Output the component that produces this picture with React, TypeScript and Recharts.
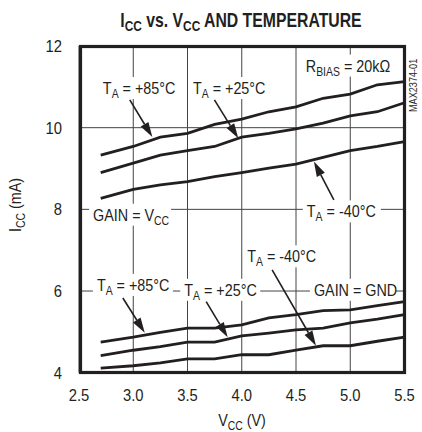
import React from "react";
import { LineChart, Line, XAxis, YAxis, CartesianGrid } from "recharts";

const FONT = "'Liberation Sans', Arial, sans-serif";
const SQUEEZE = 0.87; // the reference uses a condensed face
const INK = "#231f20";

// supply voltage (V)
const vcc = [2.7, 3.0, 3.25, 3.5, 3.75, 4.0, 4.25, 4.5, 4.75, 5.0, 5.25, 5.5];

// ICC (mA), GAIN = VCC
const vccGain85 = [9.33, 9.54, 9.77, 9.86, 10.08, 10.21, 10.39, 10.51, 10.72, 10.82, 11.05, 11.13];
const vccGain25 = [8.9, 9.13, 9.33, 9.44, 9.54, 9.77, 9.86, 9.97, 10.11, 10.29, 10.39, 10.61];
const vccGainM40 = [8.27, 8.49, 8.6, 8.68, 8.8, 8.9, 9.01, 9.11, 9.27, 9.44, 9.54, 9.66];

// ICC (mA), GAIN = GND
const gndGain85 = [4.75, 4.87, 4.99, 5.09, 5.09, 5.17, 5.34, 5.42, 5.52, 5.54, 5.64, 5.74];
const gndGain25 = [4.42, 4.55, 4.64, 4.75, 4.75, 4.9, 4.97, 5.05, 5.09, 5.22, 5.31, 5.42];
const gndGainM40 = [4.11, 4.17, 4.24, 4.34, 4.34, 4.44, 4.44, 4.55, 4.66, 4.66, 4.77, 4.87];

const xTicks = [2.5, 3.0, 3.5, 4.0, 4.5, 5.0, 5.5];
const yTicks = [4, 6, 8, 10, 12];

const data = vcc.map((v, i) => ({
  vcc: v,
  a85: vccGain85[i],
  a25: vccGain25[i],
  am40: vccGainM40[i],
  g85: gndGain85[i],
  g25: gndGain25[i],
  gm40: gndGainM40[i],
}));

const series = ["a85", "a25", "am40", "g85", "g25", "gm40"];

// plot area, used to place the annotations in data units
const W = 422;
const H = 432;
const PL = 79;
const PR = 404.5;
const PT = 46;
const PB = 372.7;
const sx = (v: number) => PL + ((v - 2.5) / 3) * (PR - PL);
const sy = (v: number) => PB - ((v - 4) / 8) * (PB - PT);

type Label = { x: number; y: number; main: string; sub: string; rest: string; w: number };
const labels: Label[] = [
  { x: 2.72, y: 10.97, main: "T", sub: "A", rest: " = +85°C", w: 72 },
  { x: 3.55, y: 10.97, main: "T", sub: "A", rest: " = +25°C", w: 72 },
  { x: 4.59, y: 11.52, main: "R", sub: "BIAS", rest: " = 20kΩ", w: 87 },
  { x: 2.63, y: 7.87, main: "GAIN = V", sub: "CC", rest: "", w: 74 },
  { x: 4.6, y: 7.95, main: "T", sub: "A", rest: " = -40°C", w: 70 },
  { x: 2.665, y: 6.15, main: "T", sub: "A", rest: " = +85°C", w: 72 },
  { x: 3.47, y: 6.03, main: "T", sub: "A", rest: " = +25°C", w: 72 },
  { x: 4.05, y: 6.85, main: "T", sub: "A", rest: " = -40°C", w: 70 },
  { x: 4.665, y: 6.03, main: "GAIN = GND", sub: "", rest: "", w: 78 },
];

const arrows = [
  { x1: 2.968, y1: 10.68, x2: 3.176, y2: 9.77 },
  { x1: 3.748, y1: 10.68, x2: 3.968, y2: 9.74 },
  { x1: 4.849, y1: 8.23, x2: 4.665, y2: 9.17 },
  { x1: 2.904, y1: 5.83, x2: 3.106, y2: 4.98 },
  { x1: 3.672, y1: 5.74, x2: 3.87, y2: 4.87 },
  { x1: 4.28, y1: 6.52, x2: 4.684, y2: 4.66 },
];

// condensed text helper
function CText({ x, y, anchor = "start", size = 16.5, bold = false, rotate = 0, squeeze = SQUEEZE, children }: any) {
  const tf = `translate(${x} ${y})${rotate ? ` rotate(${rotate})` : ""} scale(${squeeze} 1)`;
  return (
    <text
      transform={tf}
      textAnchor={anchor}
      fontFamily={FONT}
      fontSize={size}
      fontWeight={bold ? "bold" : "normal"}
      fill={INK}
    >
      {children}
    </text>
  );
}

function Arrow({ x1, y1, x2, y2 }: { x1: number; y1: number; x2: number; y2: number }) {
  const ax = sx(x1), ay = sy(y1), bx = sx(x2), by = sy(y2);
  const ang = Math.atan2(by - ay, bx - ax);
  const len = 15, half = 4.5;
  const cx = bx - len * Math.cos(ang), cy = by - len * Math.sin(ang);
  const px = -Math.sin(ang) * half, py = Math.cos(ang) * half;
  return (
    <g>
      <line x1={ax} y1={ay} x2={cx} y2={cy} stroke={INK} strokeWidth={1.6} />
      <polygon points={`${bx},${by} ${cx + px},${cy + py} ${cx - px},${cy - py}`} fill={INK} />
    </g>
  );
}

function Note({ l }: { l: Label }) {
  const x = sx(l.x), y = sy(l.y);
  return (
    <g>
      <rect x={x - 4} y={y - 11} width={l.w + 8} height={22} fill="#fff" />
      <CText x={x} y={y + 6}>
        {l.main}
        {l.sub && <tspan dy={4} fontSize={12}>{l.sub}</tspan>}
        {l.rest && <tspan dy={-4}>{l.rest}</tspan>}
      </CText>
    </g>
  );
}

const YTick = ({ y, payload }: any) => (
  <CText x={62} y={y + 6} anchor="end" size={17}>
    {payload.value}
  </CText>
);

const XTick = ({ x, payload }: any) => (
  <CText x={x} y={401} anchor="middle" size={17}>
    {Number(payload.value).toFixed(1)}
  </CText>
);

export default function App() {
  return (
    <div style={{ position: "absolute", left: 0, top: 0, width: W, height: H, background: "#fff" }}>
      <LineChart
        width={W}
        height={H}
        data={data}
        margin={{ top: PT, right: W - PR, bottom: H - PB - 30, left: PL - 40 }}
      >
        <CartesianGrid stroke="#444" strokeWidth={1} />
        <XAxis
          type="number"
          dataKey="vcc"
          domain={[2.5, 5.5]}
          ticks={xTicks}
          height={30}
          axisLine={false}
          tickLine={false}
          tick={<XTick />}
          allowDataOverflow
        />
        <YAxis
          type="number"
          domain={[4, 12]}
          ticks={yTicks}
          width={40}
          axisLine={false}
          tickLine={false}
          tick={<YTick />}
          allowDataOverflow
        />
        {series.map((k) => (
          <Line
            key={k}
            dataKey={k}
            stroke={INK}
            strokeWidth={2.8}
            dot={false}
            type="linear"
            isAnimationActive={false}
          />
        ))}
      </LineChart>
      <svg width={W} height={H} style={{ position: "absolute", left: 0, top: 0, pointerEvents: "none" }}>
        {labels.map((l, i) => (
          <Note key={i} l={l} />
        ))}
        {arrows.map((a, i) => (
          <Arrow key={i} {...a} />
        ))}
        <rect x={80.5} y={46.5} width={324} height={326} fill="none" stroke={INK} strokeWidth={3.2} />
        <CText x={241} y={27} anchor="middle" bold size={20} squeeze={0.79}>
          I<tspan dy={4} fontSize={15}>CC</tspan>
          <tspan dy={-4}> vs. V</tspan>
          <tspan dy={4} fontSize={15}>CC</tspan>
          <tspan dy={-4}> AND TEMPERATURE</tspan>
        </CText>
        <CText x={21} y={205} anchor="middle" rotate={-90}>
          I<tspan dy={4} fontSize={12}>CC</tspan>
          <tspan dy={-4}> (mA)</tspan>
        </CText>
        <CText x={242} y={426} anchor="middle">
          V<tspan dy={4} fontSize={12}>CC</tspan>
          <tspan dy={-4}> (V)</tspan>
        </CText>
        <CText x={417} y={112} rotate={-90} size={10.5}>
          MAX2374-01
        </CText>
      </svg>
    </div>
  );
}
